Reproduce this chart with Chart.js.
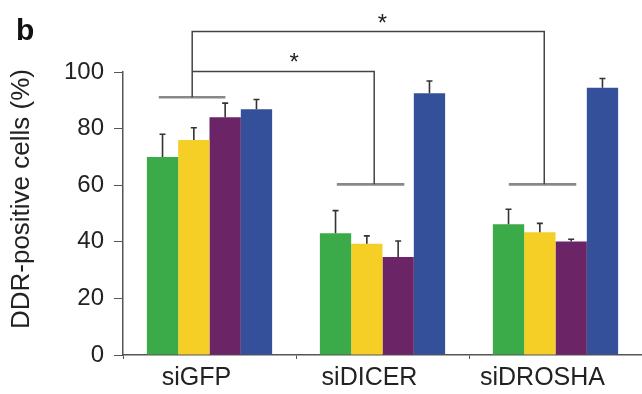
<!DOCTYPE html>
<html>
<head>
<meta charset="utf-8">
<script src="https://cdn.jsdelivr.net/npm/chart.js@4"></script>
<style>
    html, body { margin: 0; padding: 0; background: #fff; }
    #wrap { position: relative; width: 642px; height: 394px; }
</style>
</head>
<body>
<div id="wrap"><canvas id="chart" width="642" height="394"></canvas></div>
<script>
    // === DATA ===
    const categories = ["siGFP", "siDICER", "siDROSHA"];
    const greenValues = [70, 43, 46.2];
    const greenErrors = [8, 8, 5.3];
    const yellowValues = [76, 39.3, 43.4];
    const yellowErrors = [4.3, 2.8, 3.1];
    const purpleValues = [84, 34.6, 40.1];
    const purpleErrors = [5, 5.7, 0.8];
    const blueValues = [86.8, 92.5, 94.4];
    const blueErrors = [3.5, 4.3, 3.3];
    const yTicks = [0, 20, 40, 60, 80, 100];

    const FONT = "'Liberation Sans', Arial, sans-serif";

    // significance brackets, in category index / value units
    const brackets = [
        { path: [[-0.10, 91.1], [-0.10, 114.3], [1.935, 114.3], [1.935, 60.3]] },
        { path: [[-0.10, 100.2], [0.952, 100.2], [0.952, 60.3]] },
    ];
    const baseLines = [
        [-0.293, 0.092, 91.1],
        [0.736, 1.126, 60.3],
        [1.73, 2.12, 60.3],
    ];
    const stars = [[0.49, 105.5], [1.0, 119.5]];

    const errorBars = {
        id: "errorBars",
        afterDatasetsDraw(chart) {
            const c = chart.ctx;
            const y = chart.scales.y;
            c.save();
            c.strokeStyle = "#333";
            c.lineWidth = 1.6;
            chart.data.datasets.forEach((ds, i) => {
                const meta = chart.getDatasetMeta(i);
                meta.data.forEach((bar, j) => {
                    const top = y.getPixelForValue(ds.data[j] + ds.errors[j]);
                    c.beginPath();
                    c.moveTo(bar.x, bar.y);
                    c.lineTo(bar.x, top);
                    c.moveTo(bar.x - 3, top);
                    c.lineTo(bar.x + 3, top);
                    c.stroke();
                });
            });
            c.restore();
        },
    };

    const annotations = {
        id: "annotations",
        afterDraw(chart) {
            const c = chart.ctx;
            const x = chart.scales.x;
            const y = chart.scales.y;
            c.save();
            c.lineCap = "butt";
            c.strokeStyle = "#888";
            c.lineWidth = 2.6;
            baseLines.forEach(([a, b, v]) => {
                c.beginPath();
                c.moveTo(x.getPixelForValue(a), y.getPixelForValue(v));
                c.lineTo(x.getPixelForValue(b), y.getPixelForValue(v));
                c.stroke();
            });
            c.strokeStyle = "#444";
            c.lineWidth = 1.5;
            brackets.forEach((br) => {
                c.beginPath();
                br.path.forEach(([a, v], k) => {
                    const px = x.getPixelForValue(a);
                    const py = y.getPixelForValue(v);
                    if (k === 0) c.moveTo(px, py);
                    else c.lineTo(px, py);
                });
                c.stroke();
            });
            c.fillStyle = "#222";
            c.font = "24px " + FONT;
            c.textAlign = "center";
            c.textBaseline = "alphabetic";
            stars.forEach(([a, v]) => {
                c.fillText("*", x.getPixelForValue(a), y.getPixelForValue(v) + 14);
            });
            c.font = "bold 30px " + FONT;
            c.textAlign = "left";
            c.fillStyle = "#111";
            c.fillText("b", 16, 40);
            c.restore();
        },
    };

    const ctx = document.getElementById("chart").getContext("2d");
    const chart = new Chart(ctx,
    {
        type: "bar",
        data: {
            labels: categories,
            datasets: [
                { label: "1", data: greenValues, errors: greenErrors, backgroundColor: "#3bab49" },
                { label: "2", data: yellowValues, errors: yellowErrors, backgroundColor: "#f6cf26" },
                { label: "3", data: purpleValues, errors: purpleErrors, backgroundColor: "#6b2566" },
                { label: "4", data: blueValues, errors: blueErrors, backgroundColor: "#35509a" },
            ],
        },
        options: {
            responsive: false,
            animation: false,
            datasets: {
                bar: { categoryPercentage: 0.724, barPercentage: 1.0 },
            },
            layout: { padding: { top: 72, right: 0, left: 0, bottom: 0 } },
            plugins: {
                legend: { display: false },
                tooltip: { enabled: false },
            },
            scales: {
                x: {
                    grid: {
                        drawOnChartArea: false,
                        offset: true,
                        tickLength: 4,
                        color: "#555",
                    },
                    border: { color: "#555", width: 1.5 },
                    ticks: {
                        color: "#222",
                        font: { family: FONT, size: 25 },
                        padding: 4,
                        labelOffset: -13,
                    },
                    afterFit: (s) => { s.height = 39; },
                },
                y: {
                    min: 0,
                    max: 100,
                    grid: {
                        drawOnChartArea: false,
                        tickLength: 9,
                        color: "#555",
                    },
                    border: { color: "#555", width: 1.5 },
                    afterBuildTicks: (s) => { s.ticks = yTicks.map((v) => ({ value: v })); },
                    ticks: {
                        color: "#222",
                        font: { family: FONT, size: 24 },
                        padding: 10,
                    },
                    title: {
                        display: true,
                        text: "    DDR-positive cells (%)",
                        color: "#222",
                        font: { family: FONT, size: 26 },
                        padding: { top: 6, bottom: 0 },
                    },
                    afterFit: (s) => { s.width = 123; },
                },
            },
        },
        plugins: [errorBars, annotations],
    });
</script>
</body>
</html>
